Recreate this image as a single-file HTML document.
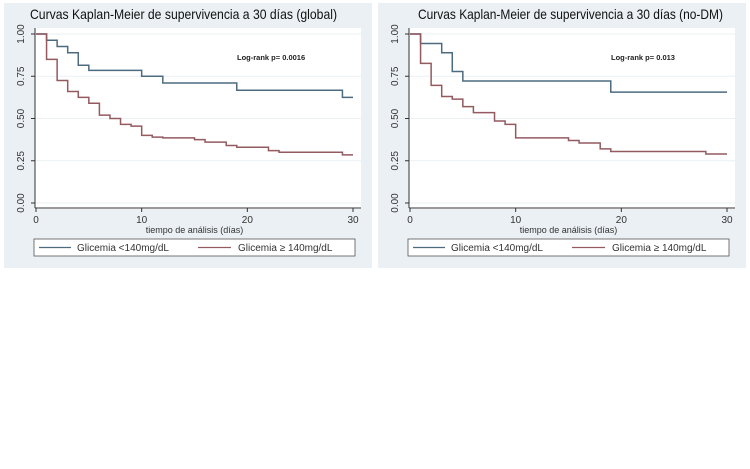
<!DOCTYPE html>
<html><head><meta charset="utf-8"><style>
body{margin:0;width:750px;height:469px;background:#fff;overflow:hidden;font-family:"Liberation Sans",sans-serif}
svg{position:absolute;left:0;top:0}
</style></head><body>
<svg id="c" width="750" height="469"></svg>
<script>
const ticksY=["0.00","0.25","0.50","0.75","1.00"];
const ticksX=[0,10,20,30];
const leftBlueT=[0,1,2,3,4,5,10,12,19,29,30];
const leftBlueS=[1,0.963,0.926,0.889,0.815,0.785,0.75,0.71,0.667,0.625,0.625];
const leftRedT=[0,1,2,3,4,5,6,7,8,9,10,11,12,15,16,18,19,22,23,29,30];
const leftRedS=[1,0.85,0.725,0.66,0.625,0.59,0.52,0.5,0.465,0.455,0.40,0.39,0.385,0.375,0.36,0.34,0.33,0.31,0.30,0.285,0.285];
const rightBlueT=[0,1,3,4,5,19,30];
const rightBlueS=[1,0.944,0.889,0.778,0.722,0.656,0.656];
const rightRedT=[0,1,2,3,4,5,6,8,9,10,15,16,18,19,28,30];
const rightRedS=[1,0.826,0.696,0.63,0.615,0.57,0.535,0.485,0.465,0.385,0.37,0.355,0.32,0.305,0.29,0.29];
const panels=[
 {ox:0,tx:30,tw:307,title:"Curvas Kaplan-Meier de supervivencia a 30 días (global)",p:"Log-rank p= 0.0016",bt:leftBlueT,bs:leftBlueS,rt:leftRedT,rs:leftRedS,name:"global"},
 {ox:374,tx:418,tw:305,title:"Curvas Kaplan-Meier de supervivencia a 30 días (no-DM)",p:"Log-rank p= 0.013",bt:rightBlueT,bs:rightBlueS,rt:rightRedT,rs:rightRedS,name:"no-dm"}];
const svg=document.getElementById('c');const NS="http://www.w3.org/2000/svg";
function mk(t,a,txt){const e=document.createElementNS(NS,t);for(const k in a)e.setAttribute(k,a[k]);if(txt!==undefined)e.textContent=txt;svg.appendChild(e);return e;}
panels.forEach(P=>{
 const ox=P.ox;
 const x=v=>ox+36+(v/30)*317;
 const y=v=>203-v*169;
 let e=mk('rect',{x:ox+4,y:3,width:368,height:265,fill:'#eaf0f3'});
 
 e=mk('rect',{x:ox+35,y:28,width:326,height:181,fill:'#fff'});
 
 e=mk('text',{x:P.tx,y:19,'font-size':14,fill:'#111',textLength:P.tw,lengthAdjust:'spacingAndGlyphs'},P.title);
 
 ticksY.forEach(t=>{const v=parseFloat(t);
  e=mk('line',{x1:ox+35,x2:ox+361,y1:y(v),y2:y(v),stroke:'#eaf0f3','stroke-width':1});
  
  mk('line',{x1:ox+31,x2:ox+35,y1:y(v),y2:y(v),stroke:'#333'});
  e=mk('text',{x:ox+24,y:y(v),'font-size':10,fill:'#333','text-anchor':'middle',transform:`rotate(-90 ${ox+24} ${y(v)})`},t);
  
 });
 ticksX.forEach(t=>{
  mk('line',{x1:x(t),x2:x(t),y1:208,y2:212,stroke:'#333'});
  e=mk('text',{x:x(t),y:223,'font-size':10,fill:'#333','text-anchor':'middle'},t);
  
 });
 e=mk('line',{x1:ox+35,x2:ox+35,y1:28,y2:208,stroke:'#333'});
 
 e=mk('line',{x1:ox+35,x2:ox+361,y1:208,y2:208,stroke:'#333'});
 
 e=mk('text',{x:x(15),y:233,'font-size':9,fill:'#333','text-anchor':'middle'},"tiempo de análisis (días)");
 
 function step(T,S,col,nm){let d=`M${x(T[0])},${y(S[0])}`;for(let i=1;i<T.length;i++){d+=`H${x(T[i])}V${y(S[i])}`;}
  const p=mk('path',{d:d,fill:'none',stroke:col,'stroke-width':1.5});
  }
 step(P.bt,P.bs,'#4d6b80','curve-low-glycemia-'+P.name);
 step(P.rt,P.rs,'#935a60','curve-high-glycemia-'+P.name);
 e=mk('text',{x:ox+237,y:60,'font-size':7.5,'font-weight':'bold',fill:'#222'},P.p);
 
 e=mk('rect',{x:ox+34,y:239,width:321,height:17,fill:'#fff',stroke:'#555','stroke-width':0.8});
 
 mk('line',{x1:ox+39,x2:ox+71,y1:247.5,y2:247.5,stroke:'#4d6b80','stroke-width':1.2});
 e=mk('text',{x:ox+77,y:251,'font-size':10,fill:'#333'},"Glicemia  <140mg/dL");
 
 mk('line',{x1:ox+198,x2:ox+231,y1:247.5,y2:247.5,stroke:'#935a60','stroke-width':1.2});
 e=mk('text',{x:ox+238,y:251,'font-size':10,fill:'#333'},"Glicemia ≥ 140mg/dL");
 
});
</script>
</body></html>
